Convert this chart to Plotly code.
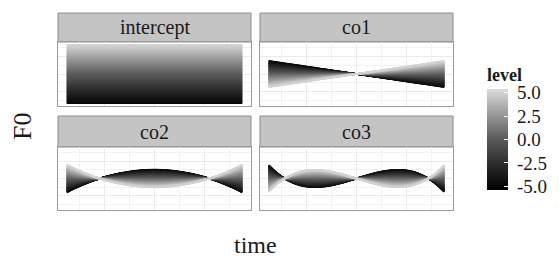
import plotly.graph_objects as go
from plotly.colors import sample_colorscale

# ---------------- data ----------------
time = [0.00, 0.05, 0.10, 0.15, 0.20, 0.25, 0.30, 0.35, 0.40, 0.45, 0.50,
        0.55, 0.60, 0.65, 0.70, 0.75, 0.80, 0.85, 0.90, 0.95, 1.00]

intercept = [1.0, 1.0, 1.0, 1.0, 1.0, 1.0, 1.0, 1.0, 1.0, 1.0, 1.0,
             1.0, 1.0, 1.0, 1.0, 1.0, 1.0, 1.0, 1.0, 1.0, 1.0]
co1 = [-0.45, -0.405, -0.36, -0.315, -0.27, -0.225, -0.18, -0.135, -0.09, -0.045, 0.0,
       0.045, 0.09, 0.135, 0.18, 0.225, 0.27, 0.315, 0.36, 0.405, 0.45]
co2 = [0.49, 0.335, 0.20, 0.08, -0.025, -0.11, -0.18, -0.235, -0.275, -0.30, -0.31,
       -0.30, -0.275, -0.235, -0.18, -0.11, -0.025, 0.08, 0.20, 0.335, 0.49]
co3 = [-0.47, -0.178, 0.037, 0.183, 0.269, 0.303, 0.294, 0.251, 0.181, 0.095, 0.0,
       -0.095, -0.181, -0.251, -0.294, -0.303, -0.269, -0.183, -0.037, 0.178, 0.47]

panel_names = ["intercept", "co1", "co2", "co3"]
panel_basis = [intercept, co1, co2, co3]

levels = [round(-5 + 0.1 * i, 1) for i in range(101)]
level_ticks = [-5, -2.5, 0, 2.5, 5]
level_ticktext = ["-5.0", "-2.5", "0.0", "2.5", "5.0"]

# ---------------- style ----------------
W, H = 559, 257
FONT = "Liberation Serif"
colorscale = [[0.0, "#000000"], [0.25, "#2b2b2b"], [0.5, "#5a5a5a"],
              [0.75, "#999999"], [1.0, "#dcdcdc"]]
CMIN, CMAX = -5.4, 5.4   # colour bar extends a little past the levels

cols_px = [(58, 251), (260, 453)]
rows_px = [(42, 106), (147, 210)]        # panel top/bottom
strips_px = [(13, 42), (116, 147)]       # strip top/bottom


def fx(px):
    return px / W


def fy(py):
    return 1 - py / H


fig = go.Figure()

for k, (name, basis) in enumerate(zip(panel_names, panel_basis)):
    r, c = divmod(k, 2)
    ax = "" if k == 0 else str(k + 1)
    for lv in levels:
        colr = sample_colorscale(colorscale, [(lv - CMIN) / (CMAX - CMIN)])[0]
        fig.add_trace(go.Scatter(
            x=time, y=[lv * b for b in basis], mode="lines",
            line=dict(color=colr, width=1.7, shape="spline"),
            hoverinfo="skip", showlegend=False,
            xaxis="x" + ax, yaxis="y" + ax))

    x0, x1 = cols_px[c]
    y0, y1 = rows_px[r]
    axis_common = dict(showticklabels=False, ticks="", zeroline=False,
                       showline=True, mirror=True, linecolor="#9a9a9a",
                       linewidth=1, gridcolor="#ebebeb", gridwidth=1)
    fig.layout["xaxis" + ax] = dict(
        domain=[fx(x0), fx(x1)], range=[-0.05, 1.05],
        tickvals=[0.216, 0.5, 0.784],
        minor=dict(tickvals=[0.074, 0.358, 0.642, 0.926], showgrid=True,
                   gridcolor="#f2f2f2", gridwidth=1),
        anchor="y" + ax, **axis_common)
    fig.layout["yaxis" + ax] = dict(
        domain=[fy(y1), fy(y0)], range=[-5.5, 5.5],
        tickvals=[-3, 0, 3],
        minor=dict(tickvals=[-4.5, -1.5, 1.5, 4.5], showgrid=True,
                   gridcolor="#f2f2f2", gridwidth=1),
        anchor="x" + ax, **axis_common)

    s0, s1 = strips_px[r]
    fig.add_shape(type="rect", xref="paper", yref="paper",
                  x0=fx(x0), x1=fx(x1), y0=fy(s1), y1=fy(s0),
                  fillcolor="#c4c4c4", line=dict(color="#8c8c8c", width=1),
                  layer="below")
    fig.add_annotation(text=name, xref="paper", yref="paper",
                       x=fx((x0 + x1) / 2), y=fy((s0 + s1) / 2),
                       showarrow=False, xanchor="center", yanchor="middle",
                       font=dict(family=FONT, size=20, color="#1a1a1a"))

# colour bar via a dummy trace (len includes the title block)
fig.add_trace(go.Scatter(
    x=[None, None], y=[None, None], mode="markers", showlegend=False,
    hoverinfo="skip",
    marker=dict(color=[CMIN, CMAX], cmin=CMIN, cmax=CMAX, colorscale=colorscale,
                showscale=True,
                colorbar=dict(
                    x=fx(487), xanchor="left", y=fy(64), yanchor="top",
                    lenmode="pixels", len=126, thickness=21,
                    xpad=0, ypad=0, outlinewidth=0,
                    tickvals=level_ticks,
                    ticktext=["\u00a0" + t for t in level_ticktext],
                    ticks="inside", tickcolor="white", ticklen=4,
                    tickfont=dict(family=FONT, size=19, color="#1a1a1a"),
                    title=dict(text="<b>level</b>", side="top",
                               font=dict(family=FONT, size=18, color="#1a1a1a"))))))

fig.add_annotation(text="time", xref="paper", yref="paper",
                   x=fx(255), y=fy(245), showarrow=False,
                   xanchor="center", yanchor="middle",
                   font=dict(family=FONT, size=24, color="#1a1a1a"))
fig.add_annotation(text="F0", xref="paper", yref="paper",
                   x=fx(22), y=fy(127), showarrow=False, textangle=-90,
                   xanchor="center", yanchor="middle",
                   font=dict(family=FONT, size=26, color="#1a1a1a"))

fig.update_layout(width=W, height=H, margin=dict(l=0, r=0, t=0, b=0),
                  paper_bgcolor="white", plot_bgcolor="white",
                  showlegend=False)

fig.write_html("out.html", config={"displayModeBar": False},
               post_script="document.body.style.margin='0';"
                           "document.body.style.overflow='hidden';")
